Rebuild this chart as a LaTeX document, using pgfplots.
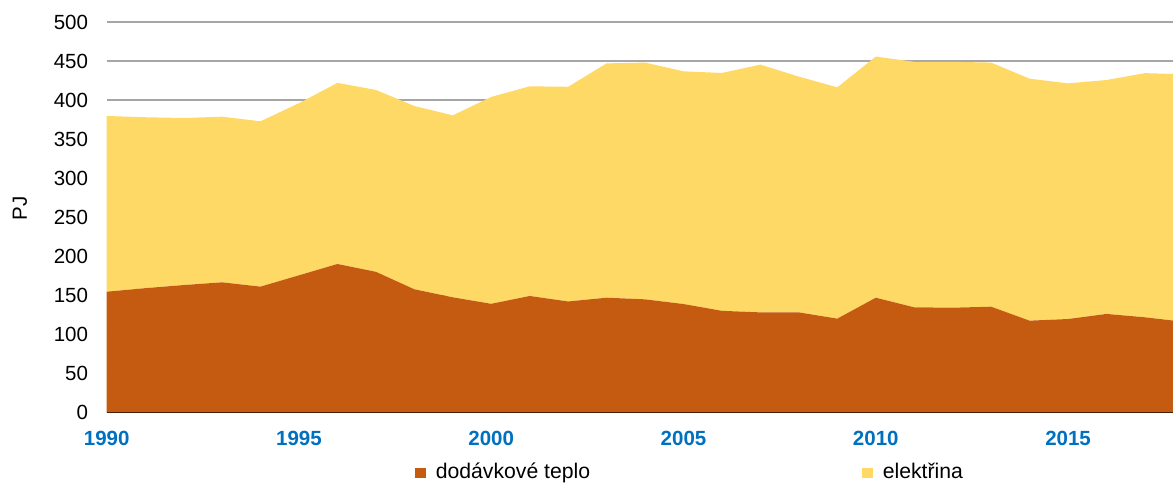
\documentclass[border=0pt]{standalone}
\usepackage{pgfplots}
\pgfplotsset{compat=1.18}
\usepackage{fontspec}
\setmainfont{Liberation Sans}
\definecolor{teplo}{RGB}{197,90,17}
\definecolor{elek}{RGB}{255,217,102}
\definecolor{tickblue}{RGB}{0,112,192}
\definecolor{gridgray}{RGB}{166,166,166}
\begin{document}
\begin{tikzpicture}
\begin{axis}[
  scale only axis,
  width=1066.3pt, height=390.3pt,
  xmin=1990, xmax=2017.73,
  ymin=0, ymax=500,
  stack plots=y,
  axis lines*=left,
  y axis line style={draw=none},
  x axis line style={draw=none},
  major tick length=0pt,
  ytick={0,50,...,500},
  xtick={1990,1995,2000,2005,2010,2015},
  xticklabel={\pgfmathprintnumber[1000 sep={}]{\tick}},
  ymajorgrids,
  grid style={gridgray, line width=1.2pt},
  font=\fontsize{20.5}{24}\selectfont,
  /pgf/number format/assume math mode=true,
  yticklabel style={anchor=east, inner sep=0pt, xshift=-18.5pt},
  xticklabel style={anchor=north, inner sep=0pt, yshift=-18.4pt, font=\fontsize{20.5}{24}\selectfont\bfseries, text=tickblue},
  ylabel={PJ},
  every axis y label/.style={at={(axis description cs:-0.0813,0.523)}, rotate=90, anchor=center},
  legend columns=2,
  legend image code/.code={\path[#1] (0pt,-5.3pt) rectangle (10.6pt,5.3pt);},
  legend style={at={(axis description cs:0.2891,-0.1555)}, anchor=west, draw=none, inner sep=0pt,
    font=\fontsize{21.2}{24}\selectfont,
    nodes={text height=15pt, text depth=4.5pt},
    /tikz/every odd column/.append style={column sep=8pt},
    /tikz/every even column/.append style={column sep=270pt}},
]
\addplot[fill=teplo, draw=none] coordinates {
(1990,154.5) (1991,159) (1992,163) (1993,166.5) (1994,161) (1995,175.5) (1996,190) (1997,180)
(1998,157.6) (1999,147.3) (2000,139) (2001,149) (2002,142) (2003,146.8) (2004,144.7) (2005,138.7)
(2006,130) (2007,128) (2008,128) (2009,120) (2010,146.8) (2011,134.5) (2012,134) (2013,135.3)
(2014,117.4) (2015,119.5) (2016,126) (2017,121.7) (2018,116)
} \closedcycle;
\addlegendentry{dodávkové teplo}
\addplot[fill=elek, draw=none] coordinates {
(1990,225.1) (1991,219) (1992,214) (1993,212.2) (1994,211.8) (1995,220.5) (1996,232) (1997,233)
(1998,234.8) (1999,233.1) (2000,265) (2001,268.6) (2002,275) (2003,300.2) (2004,303.3) (2005,298.1)
(2006,304.7) (2007,317.4) (2008,302) (2009,296.3) (2010,308.9) (2011,314.5) (2012,315) (2013,312.7)
(2014,310) (2015,301.9) (2016,299.7) (2017,312.8) (2018,317)
} \closedcycle;
\addlegendentry{elektřina}
\draw[black, line width=1.2pt] (rel axis cs:0,0) -- (rel axis cs:1,0);
\end{axis}
\pgfresetboundingbox
\path[use as bounding box] (-106.7pt,-72.7pt) rectangle (1066.3pt,412.3pt);
\end{tikzpicture}
\end{document}
